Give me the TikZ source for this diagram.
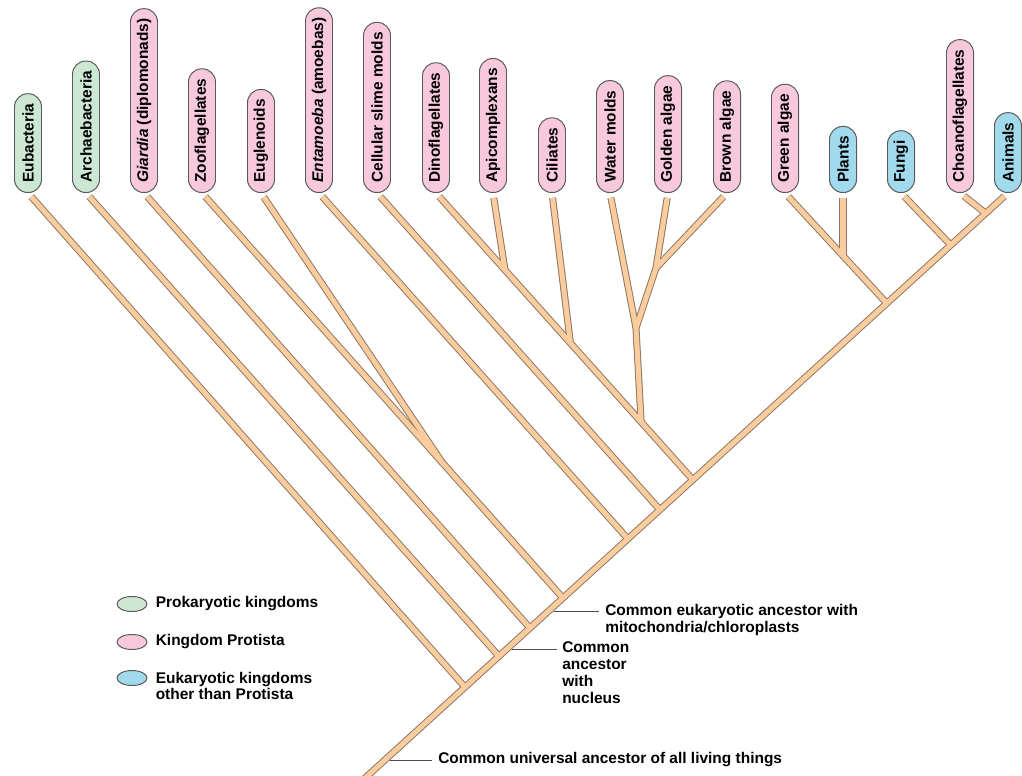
\documentclass[tikz,border=0pt]{standalone}
\usepackage{fontspec}
\setmainfont{Liberation Sans}
\usetikzlibrary{shapes.geometric, positioning, calc}
\definecolor{prokgreen}{HTML}{CCE8D4}
\definecolor{protpink}{HTML}{F8C8DC}
\definecolor{eukblue}{HTML}{A0DAEC}
\definecolor{branchfill}{HTML}{FACC9E}
\definecolor{branchedge}{HTML}{8C7864}
\definecolor{pilledge}{HTML}{5A5A5A}

\begin{document}
\begin{tikzpicture}[x=0.025cm, y=-0.025cm]
    \tikzstyle{leaf} = [rectangle, rounded corners=0.33cm, draw=pilledge, line width=0.7pt, rotate=90, anchor=west, minimum height=0.675cm, inner xsep=7pt, font=\fontsize{11}{12}\selectfont\bfseries]
    \tikzstyle{prok} = [leaf, fill=prokgreen]
    \tikzstyle{prot} = [leaf, fill=protpink]
    \tikzstyle{euk} = [leaf, fill=eukblue]
    \tikzstyle{keyoval} = [ellipse, draw=pilledge, line width=0.7pt, minimum width=0.75cm, minimum height=0.375cm, inner sep=0pt]
    \tikzstyle{note} = [inner sep=0pt, align=left, font=\fontsize{11}{12}\selectfont\bfseries]
    \tikzstyle{leader} = [draw=black!70, line width=0.6pt, shorten <=3.7pt]
    \tikzstyle{leafgap} = [shorten <=3.5pt]

    \useasboundingbox (0,0) rectangle (1022,776);
    \clip (0,0) rectangle (1022,776);

    % kingdoms
    \node[prok] (eub) at (28,193) {Eubacteria};
    \node[prok] (arch) at (86,193) {Archaebacteria};
    \node[prot] (giar) at (144,193) {\textit{Giardia} (diplomonads)};
    \node[prot] (zoo) at (202,193) {Zooflagellates};
    \node[prot] (eugl) at (261,193) {Euglenoids};
    \node[prot] (ent) at (319,193) {\textit{Entamoeba} (amoebas)};
    \node[prot] (cell) at (377,193) {Cellular slime molds};
    \node[prot] (dino) at (436,193) {Dinoflagellates};
    \node[prot] (api) at (493,193) {Apicomplexans};
    \node[prot] (cil) at (552,193) {Ciliates};
    \node[prot] (wat) at (610,193) {Water molds};
    \node[prot] (gold) at (668,193) {Golden algae};
    \node[prot] (brown) at (727,193) {Brown algae};
    \node[prot] (green) at (785,193) {Green algae};
    \node[euk] (plant) at (843,193) {Plants};
    \node[euk] (fungi) at (901,193) {Fungi};
    \node[prot] (choano) at (960,193) {Choanoflagellates};
    \node[euk] (anim) at (1008,193) {Animals};

    % branch points
    \coordinate (root) at (364,779);
    \coordinate (jeub) at (465,687.2);
    \coordinate (jarch) at (499,656.3);
    \coordinate (jgiar) at (530,628.1);
    \coordinate (jzoo) at (563,598.1);
    \coordinate (jeugl) at (442.6,463);
    \coordinate (jent) at (628,539);
    \coordinate (jcell) at (660,509.9);
    \coordinate (jdino) at (693,479.9);
    \coordinate (japi) at (505,270);
    \coordinate (jcil) at (570.4,343);
    \coordinate (jwat) at (636,328);
    \coordinate (jgold) at (656,268);
    \coordinate (jalgae) at (641.1,422);
    \coordinate (jgreen) at (887,303.5);
    \coordinate (jplant) at (843,255.8);
    \coordinate (jfungi) at (951,245.3);
    \coordinate (jchoano) at (986,213.5);

    % outline first, then fill
    \foreach \w/\c in {5pt/branchedge, 3.6pt/branchfill} {
        \begin{scope}[line width=\w, draw=\c]
            \draw[leafgap] (anim.west) -- (root);
            \draw[leafgap] (eub.west) -- (jeub);
            \draw[leafgap] (arch.west) -- (jarch);
            \draw[leafgap] (giar.west) -- (jgiar);
            \draw[leafgap] (zoo.west) -- (jzoo);
            \draw[leafgap] (eugl.west) -- (jeugl);
            \draw[leafgap] (ent.west) -- (jent);
            \draw[leafgap] (cell.west) -- (jcell);
            \draw[leafgap] (dino.west) -- (jdino);
            \draw[leafgap] (api.west) -- (japi);
            \draw[leafgap] (cil.west) -- (jcil);
            \draw[leafgap] (wat.west) -- (jwat);
            \draw[leafgap] (gold.west) -- (jgold);
            \draw[leafgap] (brown.west) -- (jgold);
            \draw (jgold) -- (jwat) -- (jalgae);
            \draw[leafgap] (green.west) -- (jgreen);
            \draw[leafgap] (plant.west) -- (jplant);
            \draw[leafgap] (fungi.west) -- (jfungi);
            \draw[leafgap] (choano.west) -- (jchoano);
        \end{scope}
    }

    % ancestors
    \coordinate (jeuk) at (548.8,611);
    \coordinate (jnuc) at (507,649);
    \coordinate (juni) at (384.9,760);
    \node[note, anchor=north west] (eukl) at (605,603.7) {Common eukaryotic ancestor with\\mitochondria/chloroplasts};
    \node[note, anchor=north west] (nucl) at (562,641.7) {Common\\ancestor\\with\\nucleus};
    \node[note, anchor=west] (unil) at (438,760) {Common universal ancestor of all living things};
    \draw[leader] (jeuk) -- ([xshift=-4.5pt]eukl.west |- jeuk);
    \draw[leader] (jnuc) -- ([xshift=-3.5pt]nucl.west |- jnuc);
    \draw[leader] (juni) -- ([xshift=-4.3pt]unil.west |- juni);

    % legend
    \node[keyoval, fill=prokgreen] (kprok) at (132,604) {};
    \node[note, right=5.7pt of kprok] (tprok) {Prokaryotic kingdoms};
    \node[keyoval, fill=protpink] (kprot) at (132,642) {};
    \node[note, right=5.7pt of kprot] (tprot) {Kingdom Protista};
    \node[keyoval, fill=eukblue] (keuk) at (132,678) {};
    \node[note, right=5.7pt of keuk, yshift=-5.7pt] (teuk) {Eukaryotic kingdoms\\other than Protista};
\end{tikzpicture}
\end{document}
